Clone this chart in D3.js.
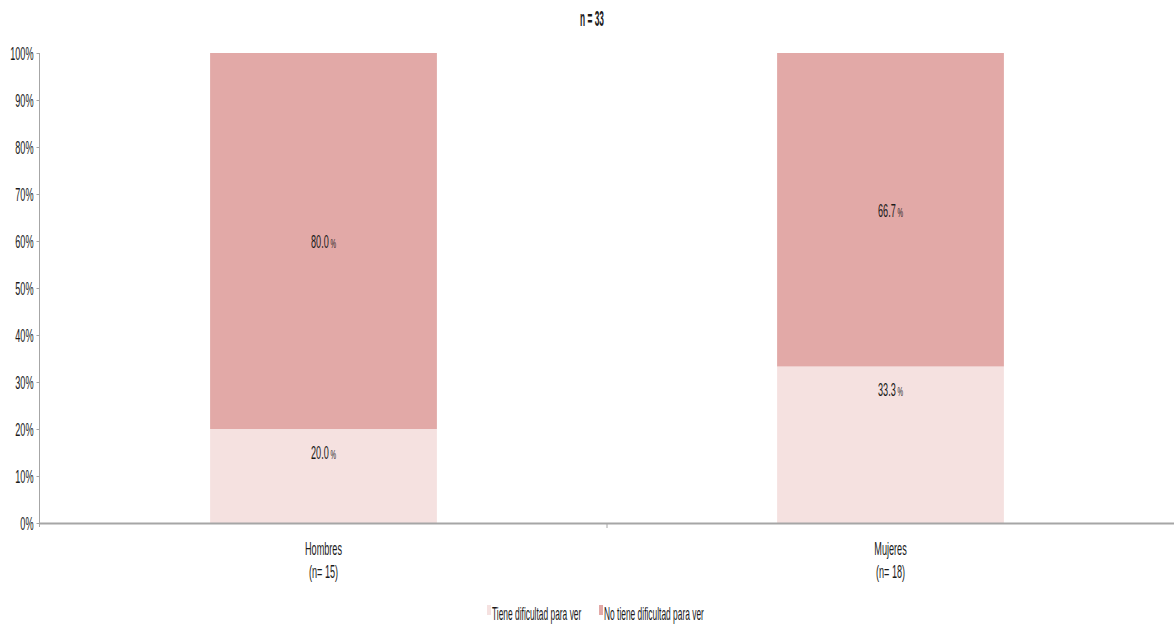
<!DOCTYPE html>
<html>
<head>
<meta charset="utf-8">
<script src="https://cdn.jsdelivr.net/npm/d3@7"></script>
<style>
  html, body { margin: 0; padding: 0; background: #fff; }
  svg { display: block; }
  text { font-family: "Liberation Sans", Arial, sans-serif; fill: #1a1a1a; }
</style>
</head>
<body>
<svg id="chart" width="1174" height="629"></svg>
<script>
// Data
const categories = ["Hombres", "Mujeres"];
const categorySizes = ["(n= 15)", "(n= 18)"];
const seriesNames = ["Tiene dificultad para ver", "No tiene dificultad para ver"];
const tieneDificultad = [20.0, 33.3];
const noTieneDificultad = [80.0, 66.7];
const yTicks = [0, 10, 20, 30, 40, 50, 60, 70, 80, 90, 100];
const titleText = "n = 33";

const colors = ["#f5e1e0", "#e2a9a7"];
const SX = 0.48; // horizontal squeeze for the condensed lettering

const svg = d3.select("#chart");
const W = 1174, H = 629;
const plotLeft = 40, plotRight = 1174, plotTop = 53, plotBottom = 523;

const x = d3.scaleBand().domain(categories).range([plotLeft, plotRight])
  .paddingInner(0.6).paddingOuter(0.3);
const y = d3.scaleLinear().domain([0, 100]).range([plotBottom, plotTop]);

// condensed text helper
function ctext(g, px, py, str, opts = {}) {
  const t = g.append("g").attr("transform", `translate(${px},${py}) scale(${opts.sx || SX},1)`)
    .append("text")
    .attr("text-anchor", opts.anchor || "middle")
    .attr("font-size", opts.size || 19)
    .attr("font-weight", opts.weight || "normal")
    .text(str);
  return t;
}

// Stack
const rows = categories.map((c, i) => ({ cat: c, s0: tieneDificultad[i], s1: noTieneDificultad[i] }));
const stack = d3.stack().keys(["s0", "s1"])(rows);

const bars = svg.append("g");
stack.forEach((layer, li) => {
  bars.selectAll(null).data(layer).enter().append("rect")
    .attr("x", d => x(d.data.cat))
    .attr("width", x.bandwidth())
    .attr("y", d => y(d[1]))
    .attr("height", d => y(d[0]) - y(d[1]))
    .attr("fill", colors[li]);
});

// Value labels
const labels = svg.append("g");
stack.forEach((layer, li) => {
  layer.forEach(d => {
    const v = d[1] - d[0];
    const cx = x(d.data.cat) + x.bandwidth() / 2;
    const cy = li === 0 ? y(d[1]) + 30 : (y(d[0]) + y(d[1])) / 2 + 7;
    const t = ctext(labels, cx, cy, "", { size: 19 });
    t.append("tspan").text(v.toFixed(1));
    t.append("tspan").attr("font-size", 13).text(" %");
  });
});

// Y axis
const yAxis = svg.append("g").attr("transform", `translate(${plotLeft - 0.5},0)`)
  .call(d3.axisLeft(y).tickValues(yTicks).tickSize(3).tickSizeOuter(0).tickFormat(d => d + "%"));
yAxis.select(".domain").attr("stroke", "#a6a6a6").attr("d", `M0,${plotTop}V${plotBottom + 4}`);
yAxis.selectAll(".tick line").attr("stroke", "#a6a6a6");
yAxis.selectAll(".tick text")
  .attr("font-family", null).attr("font-size", 19)
  .attr("fill", "#1a1a1a")
  .attr("x", -6 / SX).attr("dy", "0.36em")
  .attr("transform", `scale(${SX},1)`);

// X axis
const xAxis = svg.append("g").attr("transform", `translate(0,${plotBottom + 0.5})`)
  .call(d3.axisBottom(x).tickSize(0).tickFormat(""));
xAxis.select(".domain").attr("stroke", "#a6a6a6").attr("stroke-width", 2)
  .attr("d", `M${plotLeft},0H${plotRight}`);
const sep = plotLeft + x.step();
svg.append("line").attr("x1", sep).attr("x2", sep).attr("y1", plotBottom).attr("y2", plotBottom + 5)
  .attr("stroke", "#a6a6a6");

// Category labels
categories.forEach((c, i) => {
  const cx = x(c) + x.bandwidth() / 2;
  ctext(svg, cx, 555, c, { size: 19 });
  ctext(svg, cx, 578, categorySizes[i], { size: 19 });
});

// Title
ctext(svg, 592, 26, titleText, { size: 22, weight: "bold", sx: 0.38 }).attr("fill", "#000");

// Legend
const legend = svg.append("g");
const legendX = [487, 599];
seriesNames.forEach((s, i) => {
  legend.append("rect").attr("x", legendX[i]).attr("y", 605).attr("width", 4).attr("height", 10)
    .attr("fill", colors[i]);
  ctext(legend, legendX[i] + 5, 620, s, { size: 17.5, anchor: "start" });
});
</script>
</body>
</html>
